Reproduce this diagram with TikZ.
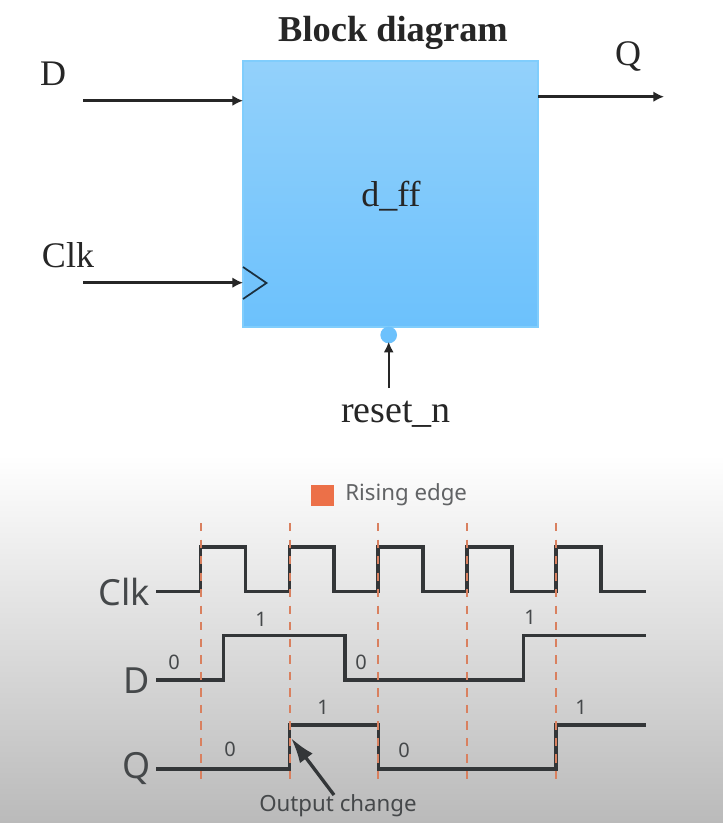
\documentclass[tikz,border=0pt]{standalone}
\usepackage{fontspec}
\setmainfont{Liberation Serif}
\newfontfamily\wavefont{Noto Sans}
\usetikzlibrary{arrows.meta}
\definecolor{boxtop}{HTML}{93D1FB}
\definecolor{boxbot}{HTML}{6CC1FC}
\definecolor{boxedge}{HTML}{80CDFC}
\definecolor{wave}{HTML}{333638}
\definecolor{dashc}{HTML}{D9805F}
\definecolor{legendc}{HTML}{EC7048}
\definecolor{bgbot}{HTML}{BABABA}
\definecolor{wtext}{HTML}{45484A}
\tikzset{
  px/.style={x=0.75pt,y=-0.75pt},
  blocktxt/.style={inner sep=0pt,text=black!85,font=\fontsize{27}{30}\selectfont},
  ffbox/.style={draw=boxedge,line width=0.8pt,top color=boxtop,bottom color=boxbot,inner sep=0pt,minimum width=221.25pt,minimum height=199.5pt},
  wire/.style={draw=black!85,line width=2.5pt,-{Latex[length=8pt,width=8pt]}},
  thinwire/.style={draw=black!85,line width=1.6pt,-{Latex[length=8pt,width=7.5pt]}},
  sig/.style={draw=wave,line width=2.5pt,line join=miter},
  edgeline/.style={draw=dashc,line width=1.5pt,dash pattern=on 6.2pt off 6.2pt},
  wlabel/.style={inner sep=0pt,text=wtext,font=\wavefont\fontsize{27}{29}\selectfont},
  bit/.style={inner sep=0pt,text=wtext,font=\wavefont\fontsize{15}{17}\selectfont},
  note/.style={inner sep=0pt,text=wtext,font=\wavefont\fontsize{16.7}{19}\selectfont}
}
\begin{document}
\begin{tikzpicture}[px]
\useasboundingbox (0,0) rectangle (723,823);
\fill[white] (0,0) rectangle (723,455);
\shade[top color=white,bottom color=bgbot] (0,455) rectangle (723,823);
% block diagram
\node[ffbox] (ff) at (390.5,194) {};
\node[blocktxt,font=\bfseries\fontsize{27.3}{30}\selectfont] (title) at (393,33) {Block diagram};
\node[blocktxt] (dname) at (391,196) {d\_ff};
\node[blocktxt] (dlab) at (53,74) {D};
\node[blocktxt] (clklab) at (68,255) {Clk};
\node[blocktxt] (qlab) at (628,57) {Q};
\node[blocktxt,font=\fontsize{28.5}{30}\selectfont] (rlab) at (396,414) {reset\_n};
\coordinate (din) at (83,100.7);
\coordinate (dend) at (243,100.7);
\coordinate (cin) at (83,282.7);
\coordinate (cend) at (243,282.7);
\coordinate (qstart) at (538,96.7);
\coordinate (qend) at (664,96.7);
\coordinate (rin) at (388.7,388);
\node[circle,fill=boxbot,draw=none,inner sep=0pt,minimum size=12.5pt] (bub) at (388.7,335) {};
\draw[wire] (din) -- (dend);
\draw[wire] (cin) -- (cend);
\draw[wire,line width=2pt] (qstart) -- (qend);
\draw[thinwire] (rin) -- ([yshift=1.5pt]bub.south);
\draw[draw=black!75!boxbot,line width=1.3pt] (243,267) -- (266.5,283) -- (243,299);
% legend
\node[fill=legendc,inner sep=0pt,minimum width=17pt,minimum height=16pt] (legsq) at (322.5,495.5) {};
\node[note,anchor=west,text=wtext!85!white] (legtxt) at (345,495) {Rising edge};
% waveforms
\draw[sig] (156,591.5) -- (200.5,591.5) -- (200.5,547) -- (245.5,547) -- (245.5,591.5)
  -- (289.5,591.5) -- (289.5,547) -- (334,547) -- (334,591.5)
  -- (378,591.5) -- (378,547) -- (423,547) -- (423,591.5)
  -- (467,591.5) -- (467,547) -- (512,547) -- (512,591.5)
  -- (556,591.5) -- (556,547) -- (601,547) -- (601,591.5) -- (646,591.5);
\draw[sig] (156,680) -- (223.5,680) -- (223.5,635.5) -- (345,635.5) -- (345,680)
  -- (523.5,680) -- (523.5,635.5) -- (646,635.5);
\draw[sig] (156,769) -- (289.5,769) -- (289.5,725) -- (378.5,725) -- (378.5,769)
  -- (556,769) -- (556,725) -- (646,725);
% dashed clock edges
\foreach \x in {200.5,289.5,378,467,556}
  \draw[edgeline] (\x,523) -- (\x,785);
\node[wlabel] (lclk) at (124.5,592) {Clk};
\node[wlabel] (ld) at (137,681) {D};
\node[wlabel] (lq) at (137,769) {Q};
\node[bit] (b1) at (261,619) {1};
\node[bit] (b2) at (530,617) {1};
\node[bit] (b3) at (174,662) {0};
\node[bit] (b4) at (361,662) {0};
\node[bit] (b5) at (323,707) {1};
\node[bit] (b6) at (581,707) {1};
\node[bit] (b7) at (230,749) {0};
\node[bit] (b8) at (404,750) {0};
\node[note] (oc) at (338,806) {Output change};
\coordinate (octip) at (291,738);
\coordinate (ocfrom) at (334,795);
\draw[draw=wave,line width=2.5pt,-{Latex[length=19pt,width=12pt]}] (ocfrom) -- (octip);
\end{tikzpicture}
\end{document}
